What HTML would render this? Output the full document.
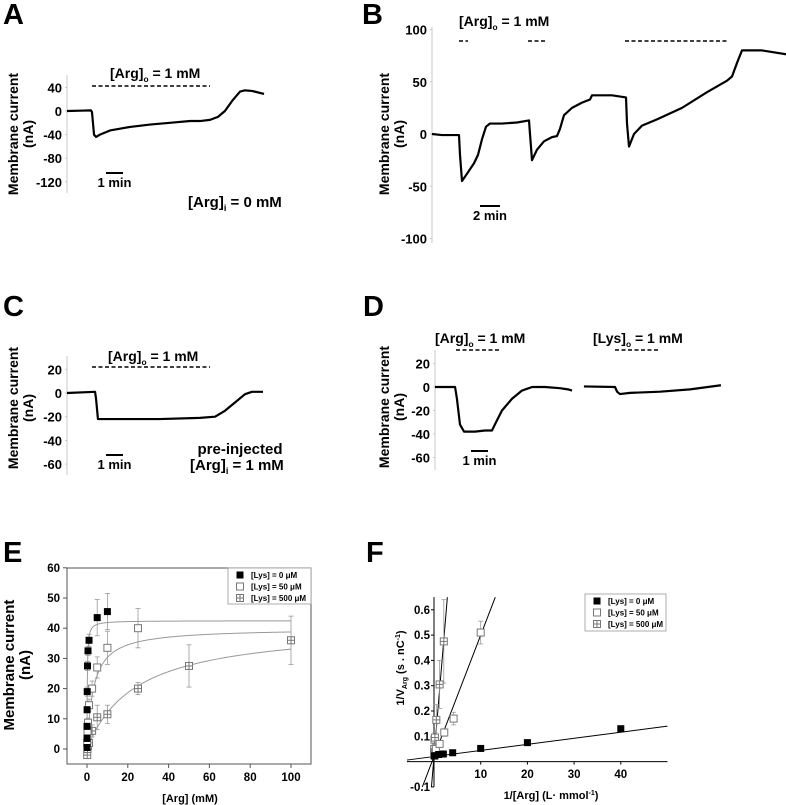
<!DOCTYPE html>
<html><head><meta charset="utf-8">
<style>
html,body{margin:0;padding:0;background:#fff;}
svg{display:block;font-family:"Liberation Sans",Arial,sans-serif;font-weight:bold;}
</style></head>
<body>
<svg id="fig" width="786" height="805" viewBox="0 0 786 805" xmlns="http://www.w3.org/2000/svg"></svg>
<script>
// ---------- DATA ----------
// Panel A trace (time min, current nA)
const aTime=[0,0.76,1.41,1.47,1.59,1.71,1.94,2.53,3.71,4.88,6.06,7.24,7.82,8.41,8.88,9.29,9.71,10.18,10.47,10.88,11.59];
const aCurr=[0,0.5,1,-2,-40,-44,-40,-33,-27,-23,-20,-17,-17,-15,-10,0,17,33,35,34,29];
const aTicks=[40,0,-40,-80,-120];
// Panel B
const bTime=[0,1,2.7,2.8,3.0,3.5,4.2,4.6,5.0,5.4,5.8,7.0,8.5,9.7,9.8,10.0,10.5,11.2,12.0,12.5,12.8,13.2,14.0,15.0,15.8,16.0,18.0,19.4,19.5,19.7,20.2,21.0,22.5,25.0,27.5,29.5,30.0,30.5,31.0,33.0,35.6];
const bCurr=[0,-1,-1,-20,-45,-38,-28,-20,-5,7,10,10,11,13,0,-25,-15,-7,-3,-2,5,18,25,30,33,37,37,35,10,-12,0,8,14,25,40,51,55,68,80,80,76];
const bTicks=[100,50,0,-50,-100];
// Panel C
const cTime=[0,1.65,1.71,1.82,3.12,5.47,7.82,8.71,9.29,9.88,10.47,10.88,11.53];
const cCurr=[0,1,-5,-22,-22,-22,-21,-20,-15,-8,-1,1,1];
const cTicks=[20,0,-20,-40,-60];
// Panel D
const d1Time=[0,1.18,1.29,1.47,1.71,2.35,2.94,3.35,3.59,3.94,4.53,5.12,5.71,6.47,7.35,7.82,8.06];
const d1Curr=[0,0,-10,-32,-38,-38,-37,-37,-30,-20,-10,-3,0,0,-1,-2,-3];
const d2Time=[8.76,10.59,10.71,10.88,11.47,13.24,15.0,16.82];
const d2Curr=[0.5,0,-4,-6,-5,-4,-2,1.5];
const dTicks=[20,0,-20,-40,-60];
// Panel E (x mM, y nA, err)
const eX0=[0.005,0.01,0.025,0.05,0.1,0.25,0.5,1,5,10];
const eY0=[0.5,3.5,7.5,13,19,27.5,32.5,36,43.5,45.5];
const eE0=[0.5,1,1,1,1.5,1.5,1.5,2,6,6];
const eX50=[0.1,0.25,0.5,1,2.5,5,10,25];
const eY50=[2,5.9,8.7,14.5,20,27,33.5,40];
const eE50=[1,1,1.5,2,2.5,3.5,5.5,6.5];
const eX500=[0.1,0.25,0.5,1,2.5,5,10,25,50,100];
const eY500=[-2,0,1,2,6,10.5,11.5,20,27.5,36];
const eE500=[0.5,0.5,1,1,2,4,3,2,7,8];
const eVmax=[42.5,40,41];
const eKm=[0.15,3.2,24];
const eXTicks=[0,20,40,60,80,100];
const eYTicks=[0,10,20,30,40,50,60];
// Panel F
const fX0=[0.1,0.2,1,2,4,10,20,40];
const fY0=[0.022,0.023,0.028,0.03,0.035,0.052,0.075,0.13];
const fX50=[0.04,0.1,0.2,0.4,1.2,2.2,4.2,10];
const fY50=[0.025,0.03,0.037,0.05,0.07,0.115,0.17,0.51];
const fE50=[0.005,0.005,0.005,0.01,0.01,0.015,0.025,0.045];
const fX500=[0.01,0.02,0.04,0.1,0.2,0.5,1.2,2.1];
const fY500=[0.03,0.036,0.05,0.087,0.095,0.165,0.305,0.475];
const fE500=[0.005,0.01,0.02,0.02,0.02,0.06,0.095,0.165];
const fIntercept=[0.02,0.02,0.02];
const fSlope=[0.0024,0.048,0.22];
const fXTicks=[10,20,30,40];
const fYTicks=[-0.1,0.1,0.2,0.3,0.4,0.5,0.6];

// ---------- DRAW ----------
const svg=document.getElementById('fig');
const NS='http://www.w3.org/2000/svg';
function mk(tag,attrs,parent){const e=document.createElementNS(NS,tag);for(const k in attrs)e.setAttribute(k,attrs[k]);(parent||svg).appendChild(e);return e;}
function txt(x,y,s,size,anchor,parent){const t=mk('text',{x:x,y:y,'font-size':size,'text-anchor':anchor||'middle'},parent);t.textContent=s;return t;}
function grp(){return mk('g',{});}

// Panel letters
[['A',3,24],['B',362,24],['C',3,316],['D',363,316],['E',3,562],['F',366,562]].forEach(p=>{
  const t=txt(p[1],p[2],p[0],29,'start');
  
  
});

function ylabel(cx,cy,size,parent,l2){
  const g=mk('g',{transform:`translate(${cx},${cy}) rotate(-90)`},parent);
  txt(0,0,'Membrane current',size,'middle',g);
  if(l2!==false) txt(0,size+1,'(nA)',size,'middle',g);
  return g;
}

function tracePanel(name,x0,y0,pxMin,pxNA,ticks,axTop,axBot,traces){
  const g=grp();
  
  
  const ax=mk('line',{x1:x0,x2:x0,y1:axTop,y2:axBot,stroke:'#c8c8c8','stroke-width':1},g);
  
  
  const sy=v=>y0-v*pxNA, sx=t=>x0+t*pxMin;
  ticks.forEach(v=>{
    const t=txt(x0-5,sy(v)+5,String(v),13,'end',g);
    
    
    mk('line',{x1:x0-2,x2:x0,y1:sy(v),y2:sy(v),stroke:'#c8c8c8'},g);
  });
  traces.forEach(tr=>{
    const p=mk('polyline',{points:tr[0].map((t,i)=>sx(t)+','+sy(tr[1][i])).join(' '),fill:'none',stroke:'#000','stroke-width':2.2,'stroke-linejoin':'round'},g);
    
    
  });
  return g;
}
function dash(x1,x2,y,parent){const l=mk('line',{x1:x1,x2:x2,y1:y,y2:y,stroke:'#000','stroke-width':1.6,'stroke-dasharray':'4,2.5'},parent);}
function sub(x,y,main,subs,rest,size,parent,anchor){
  const t=mk('text',{x:x,y:y,'font-size':size,'text-anchor':anchor||'start'},parent);
  const a=mk('tspan',{},t);a.textContent=main;
  const b=mk('tspan',{'font-size':size*0.6,dy:4},t);b.textContent=subs;
  const c=mk('tspan',{dy:-4},t);c.textContent=rest;
  return t;
}
function scalebar(x1,x2,y,label,parent){mk('line',{x1:x1,x2:x2,y1:y,y2:y,stroke:'#000','stroke-width':2},parent);txt((x1+x2)/2,y+14,label,13,'middle',parent);}

// A
let gA=tracePanel('a',67,111,17,0.59,aTicks,75,193,[[aTime,aCurr]]);
ylabel(18,134,14,gA);
dash(92,210,86,gA);
sub(110,78,'[Arg]','o',' = 1 mM',14,gA);
scalebar(106,123,173,'1 min',gA);
sub(188,207,'[Arg]','i',' = 0 mM',15,gA);

// B
let gB=tracePanel('b',432,134,10,1.045,bTicks,27,243,[[bTime,bCurr]]);
ylabel(389,134,14,gB);
dash(459,468,41,gB);dash(528,547,41,gB);dash(625,727,41,gB);
sub(459,26,'[Arg]','o',' = 1 mM',14,gB);
scalebar(480,500,206,'2 min',gB);

// C
let gC=tracePanel('c',67,393,17,1.185,cTicks,356,475,[[cTime,cCurr]]);
ylabel(18,408,14,gC);
dash(92,210,367,gC);
sub(108,361,'[Arg]','o',' = 1 mM',14,gC);
scalebar(106,123,455,'1 min',gC);
txt(240,454,'pre-injected',15,'middle',gC);
sub(190,470,'[Arg]','i',' = 1 mM',15,gC);

// D
let gD=tracePanel('d',435,387,17,1.175,dTicks,350,470,[[d1Time,d1Curr],[d2Time,d2Curr]]);
ylabel(389,407,14,gD);
dash(456,500,350,gD);dash(615,660,350,gD);
sub(435,343,'[Arg]','o',' = 1 mM',14,gD);
sub(593,343,'[Lys]','o',' = 1 mM',14,gD);
scalebar(471,488,451,'1 min',gD);

// markers
function marker(x,y,type,parent){
  const s=7;
  if(type===0){mk('rect',{x:x-s/2,y:y-s/2,width:s,height:s,fill:'#000'},parent);}
  else if(type===1){mk('rect',{x:x-s/2,y:y-s/2,width:s,height:s,fill:'#fff',stroke:'#777','stroke-width':1},parent);}
  else {mk('rect',{x:x-s/2,y:y-s/2,width:s,height:s,fill:'#fff',stroke:'#777','stroke-width':1},parent);
    mk('line',{x1:x,x2:x,y1:y-s/2,y2:y+s/2,stroke:'#777'},parent);mk('line',{x1:x-s/2,x2:x+s/2,y1:y,y2:y,stroke:'#777'},parent);}
}
function errbar(x,y1,y2,parent){mk('line',{x1:x,x2:x,y1:y1,y2:y2,stroke:'#999','stroke-width':0.8},parent);mk('line',{x1:x-2.5,x2:x+2.5,y1:y1,y2:y1,stroke:'#999','stroke-width':0.8},parent);mk('line',{x1:x-2.5,x2:x+2.5,y1:y2,y2:y2,stroke:'#999','stroke-width':0.8},parent);}
function legend(x,y,w,h,parent){
  const g=mk('g',{},parent);
  
  
  mk('rect',{x:x,y:y,width:w,height:h,fill:'#fff',stroke:'#999','stroke-width':0.8},g);
  ['[Lys] = 0 \u03bcM','[Lys] = 50 \u03bcM','[Lys] = 500 \u03bcM'].forEach((s,i)=>{
    const e=mk('g',{},g);
    
    
    const yy=y+7+i*11.5;
    marker(x+12,yy,i,e);
    txt(x+23,yy+3,s,8,'start',e);
  });
}

// E
const gE=grp();


const exs=v=>87+v*2.04, eys=v=>749-v*3.02;
mk('rect',{x:67,y:568,width:244,height:196,fill:'none',stroke:'#555','stroke-width':1},gE);
eXTicks.forEach(v=>{mk('line',{x1:exs(v),x2:exs(v),y1:764,y2:768,stroke:'#555'},gE);const t=txt(exs(v),781,String(v),11.5,'middle',gE);});
eYTicks.forEach(v=>{mk('line',{x1:63,x2:67,y1:eys(v),y2:eys(v),stroke:'#555'},gE);const t=txt(60,eys(v)+4,String(v),11.5,'end',gE);});
const ext=txt(190,802,'[Arg] (mM)',11,'middle',gE);
const eyt=ylabel(14,665,15,gE);
for(let k=0;k<3;k++){
  const pts=[];
  for(let i=0;i<=300;i++){const x=100*Math.pow(i/300,2.5);pts.push(exs(x)+','+eys(eVmax[k]*x/(eKm[k]+x)));}
  const c=mk('polyline',{points:pts.join(' '),fill:'none',stroke:'#999','stroke-width':1},gE);
  
  
}
[[eX500,eY500,eE500,2],[eX50,eY50,eE50,1],[eX0,eY0,eE0,0]].forEach(s=>{
  s[0].forEach((x,i)=>{errbar(exs(x),eys(s[1][i]+s[2][i]),eys(s[1][i]-s[2][i]),gE);});
  s[0].forEach((x,i)=>{const m=mk('g',{},gE);marker(exs(x),eys(s[1][i]),s[3],m);});
});
legend(228,568,83,36,gE);

// F
const gF=grp();


const fxs=v=>434+v*4.67, fys=v=>761.6-v*253;
mk('line',{x1:fxs(-5.8),x2:fxs(50),y1:fys(0),y2:fys(0),stroke:'#000','stroke-width':1},gF);
mk('line',{x1:434,x2:434,y1:fys(0.65),y2:fys(-0.1),stroke:'#000','stroke-width':1},gF);
fXTicks.forEach(v=>{mk('line',{x1:fxs(v),x2:fxs(v),y1:fys(0),y2:fys(0)+3,stroke:'#000'},gF);const t=txt(fxs(v),778,String(v),11.5,'middle',gF);});
fYTicks.forEach(v=>{mk('line',{x1:431,x2:434,y1:fys(v),y2:fys(v),stroke:'#000'},gF);const t=txt(430,fys(v)+4,String(v),11.5,'end',gF);});
const fxt=mk('text',{x:551,y:799,'font-size':11,'text-anchor':'middle'},gF);

fxt.innerHTML='1/[Arg] (L\u00b7 mmol<tspan font-size="7" dy="-4">-1</tspan><tspan dy="4">)</tspan>';
const fyt=mk('text',{transform:'translate(404,668) rotate(-90)','font-size':11,'text-anchor':'middle'},gF);

fyt.innerHTML='1/V<tspan font-size="7" dy="3">Arg</tspan><tspan dy="-3"> (s . nC</tspan><tspan font-size="7" dy="-4">-1</tspan><tspan dy="4">)</tspan>';
for(let k=0;k<3;k++){
  let xa=-5.8, xb=50;
  const ya=fIntercept[k]+fSlope[k]*xa, yb=fIntercept[k]+fSlope[k]*xb;
  if(ya<-0.1) xa=(-0.1-fIntercept[k])/fSlope[k];
  if(yb>0.65) xb=(0.65-fIntercept[k])/fSlope[k];
  const l=mk('line',{x1:fxs(xa),y1:fys(fIntercept[k]+fSlope[k]*xa),x2:fxs(xb),y2:fys(fIntercept[k]+fSlope[k]*xb),stroke:'#000','stroke-width':1},gF);
  
  
}
fX500.forEach((x,i)=>errbar(fxs(x),fys(fY500[i]+fE500[i]),fys(fY500[i]-fE500[i]),gF));
fX50.forEach((x,i)=>errbar(fxs(x),fys(fY50[i]+fE50[i]),fys(fY50[i]-fE50[i]),gF));
[[fX500,fY500,2],[fX50,fY50,1],[fX0,fY0,0]].forEach(s=>{
  s[0].forEach((x,i)=>{const m=mk('g',{},gF);marker(fxs(x),fys(s[1][i]),s[2],m);});
});
legend(585,594,81,37,gF);
</script>
</body></html>
